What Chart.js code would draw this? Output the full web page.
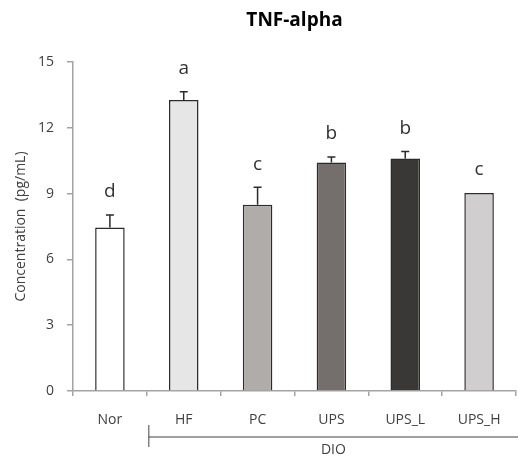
<!DOCTYPE html>
<html>
<head>
<meta charset="utf-8">
<script src="https://cdn.jsdelivr.net/npm/chart.js@4/dist/chart.umd.min.js"></script>
<style>
  html, body { margin: 0; padding: 0; background: #fff; }
</style>
</head>
<body>
<canvas id="chart" width="518" height="460"></canvas>
<script>
  let groups = ['Nor', 'HF', 'PC', 'UPS', 'UPS_L', 'UPS_H'];
  let means = [7.45, 13.27, 8.49, 10.42, 10.6, 9.03];
  let errors = [0.58, 0.37, 0.8, 0.25, 0.32, 0];
  let letters = ['d', 'a', 'c', 'b', 'b', 'c'];
  let yMax = 15;
  let yStep = 3;
  let bracketLabel = 'DIO';
  let bracketFirst = 1; // first group under the DIO bracket

  let barColors = ['#ffffff', '#e6e6e6', '#b0acaa', '#746f6d', '#3a3836', '#d0cecf'];
  let axisColor = '#a3a3a3';
  let textColor = '#404040';
  let fontFamily = '"Open Sans", "Noto Sans", sans-serif';

  // error bars, significance letters and the DIO bracket
  const extras = {
    id: 'extras',
    afterDatasetsDraw(chart) {
      let ctx = chart.ctx;
      let x = chart.scales.x;
      let y = chart.scales.y;

      ctx.save();
      ctx.strokeStyle = '#2b2b2b';
      ctx.lineWidth = 1.5;
      ctx.fillStyle = '#333';
      ctx.font = '19px ' + fontFamily;
      ctx.textAlign = 'center';
      ctx.textBaseline = 'middle';

      for (var i = 0; i < groups.length; i++) {
        let cx = x.getPixelForValue(i);
        let top = y.getPixelForValue(means[i] + errors[i]);
        if (errors[i] > 0) {
          let base = y.getPixelForValue(means[i]);
          ctx.beginPath();
          ctx.moveTo(cx, base);
          ctx.lineTo(cx, top);
          ctx.moveTo(cx - 4, top);
          ctx.lineTo(cx + 4, top);
          ctx.stroke();
        }
        ctx.fillText(letters[i], cx, top - 23);
      }

      // bracket under the DIO groups
      let left = x.getPixelForValue(bracketFirst - 0.5) + 2;
      let right = chart.width;
      let lineY = x.top + 46;
      ctx.strokeStyle = '#404040';
      ctx.lineWidth = 1;
      ctx.beginPath();
      ctx.moveTo(left, lineY);
      ctx.lineTo(right, lineY);
      ctx.moveTo(left, lineY - 12);
      ctx.lineTo(left, lineY + 10);
      ctx.stroke();

      ctx.fillStyle = textColor;
      ctx.font = '14px ' + fontFamily;
      ctx.fillText(bracketLabel, (left + right) / 2, x.top + 59);
      ctx.restore();
    }
  };

  function drawChart() {
    let ctx = document.getElementById('chart').getContext('2d');
    new Chart(ctx, {
      type: 'bar',
      data: {
        labels: groups,
        datasets: [{
          data: means,
          backgroundColor: barColors,
          borderColor: '#2b2b2b',
          borderWidth: 1.5,
          barPercentage: 0.4,
          categoryPercentage: 1
        }]
      },
      options: {
        responsive: false,
        animation: false,
        layout: { padding: { top: 0, right: 2, bottom: 0, left: 0 } },
        plugins: {
          legend: { display: false },
          tooltip: { enabled: false },
          title: {
            display: true,
            text: 'TNF-alpha',
            fullSize: false,
            color: '#000',
            font: { family: fontFamily, size: 19, weight: 'bold' },
            padding: { top: 9, bottom: 30.2 }
          }
        },
        scales: {
          x: {
            afterFit: scale => { scale.height = 69; },
            grid: { drawOnChartArea: false, tickLength: 5, color: axisColor, lineWidth: 1.5 },
            border: { color: axisColor, width: 1.5 },
            ticks: { color: textColor, font: { family: fontFamily, size: 14 }, padding: 16, maxRotation: 0 }
          },
          y: {
            min: 0,
            max: yMax,
            afterFit: scale => { scale.width = 73; },
            grid: { drawOnChartArea: false, tickLength: 6, color: axisColor, lineWidth: 1.5 },
            border: { color: axisColor, width: 1.5 },
            ticks: { stepSize: yStep, color: textColor, font: { family: fontFamily, size: 14 }, padding: 13 },
            title: {
              display: true,
              text: 'Concentration  (pg/mL)',
              color: textColor,
              font: { family: fontFamily, size: 14 },
              padding: { top: 12.6, bottom: 0 }
            }
          }
        }
      },
      plugins: [extras]
    });
  }

  drawChart();
</script>
</body>
</html>
